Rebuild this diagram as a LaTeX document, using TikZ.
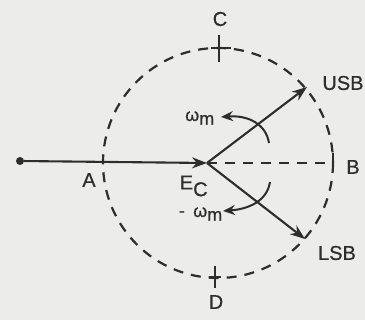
\documentclass[tikz,border=0pt]{standalone}
\usepackage{fontspec}
\setmainfont[FakeBold=0.6]{Liberation Sans}
\usetikzlibrary{arrows.meta}
\definecolor{ink}{RGB}{45,45,45}
\definecolor{paper}{RGB}{236,236,234}
\begin{document}
\begin{tikzpicture}[x=1pt,y=-1pt,
  ink/.style={draw=ink,line width=2.1pt},
  dashln/.style={draw=ink,line width=2.2pt,dash pattern=on 10pt off 8pt},
  vec/.style={ink,-{Stealth[length=15pt,width=11pt]}},
  curv/.style={draw=ink,line width=2pt,-{Stealth[length=12pt,width=10pt]}},
  lbl/.style={text=ink,font=\fontsize{20}{22}\selectfont,inner sep=0pt},
  wl/.style={text=ink,font=\fontsize{18}{20}\selectfont,inner sep=0pt},
  dotn/.style={circle,fill=ink,inner sep=0pt,minimum size=8pt}]
\fill[paper] (0,0) rectangle (365,320);
\useasboundingbox (0,0) rectangle (365,320);
% circle
\coordinate (O) at (218,163);
\draw[dashln] (O) circle[radius=115];
% points
\node[dotn] (P) at (20,161) {};
\coordinate (Ec) at (207,163);
\coordinate (U) at (307,87);
\coordinate (L) at (305,239);
\coordinate (Bt) at (333,163);
% ticks
\coordinate (Ct) at (219,35); \coordinate (Cb) at (219,62);
\coordinate (Cl) at (211,48); \coordinate (Cr) at (231,48);
\draw[ink] (Ct) -- (Cb); \draw[ink] (Cl) -- (Cr);
\coordinate (Dt) at (215,266); \coordinate (Db) at (215,288);
\coordinate (Dl) at (209,277); \coordinate (Dr) at (221,277);
\draw[ink] (Dt) -- (Db); \draw[ink] (Dl) -- (Dr);
\coordinate (Bu) at (333,153); \coordinate (Bd) at (333,170);
\draw[ink] (Bu) -- (Bd);
% vectors
\draw[vec] (P) -- (Ec);
\draw[dashln] (Ec) -- (Bt);
\draw[vec] (Ec) -- (U);
\draw[vec] (Ec) -- (L);
% rotation arrows
\coordinate (u0) at (269,143); \coordinate (u1) at (221,117);
\draw[curv] (u0) .. controls (266,124) and (248,115) .. (u1);
\coordinate (l0) at (270,182); \coordinate (l1) at (223,211);
\draw[curv] (l0) .. controls (267,201) and (249,209) .. (l1);
% labels
\node[lbl] (lC) at (220,19) {C};
\node[lbl] (lD) at (216,302) {D};
\node[lbl] (lA) at (89,180) {A};
\node[lbl] (lB) at (353,167) {B};
\node[lbl] (lU) at (343,83) {USB};
\node[lbl] (lL) at (337,253) {LSB};
\node[lbl] (lE) at (194,186) {E$_{\textrm{C}}$};
\node[wl] (w1) at (200,118) {ω$_{\textrm{m}}$};
\node[wl] (w2) at (208,214) {ω$_{\textrm{m}}$};
\node[wl,anchor=east] (w2m) at ([xshift=-8pt]w2.west) {-};
\end{tikzpicture}
\end{document}
